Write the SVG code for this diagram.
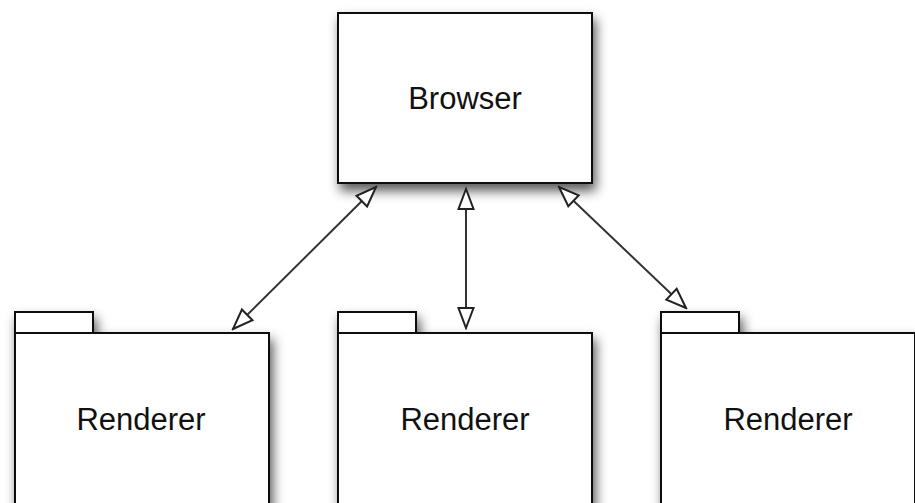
<svg xmlns="http://www.w3.org/2000/svg" width="915" height="503" viewBox="0 0 915 503">
<style>
.box{fill:#fff;stroke:#111;stroke-width:2}
.lbl{font-family:"Liberation Sans",Arial,sans-serif;font-size:31px;fill:#111;text-anchor:middle}
.conn{stroke:#333;stroke-width:2;fill:none;marker-start:url(#tri);marker-end:url(#tri)}
</style>
<defs>
<filter id="sh" x="-20%" y="-20%" width="150%" height="150%">
<feDropShadow dx="3" dy="7" stdDeviation="6" flood-color="#000" flood-opacity="0.65"/>
</filter>
<marker id="tri" markerUnits="userSpaceOnUse" viewBox="-22 -10 24 20" refX="0" refY="0" markerWidth="24" markerHeight="20" orient="auto-start-reverse">
<path d="M0,0 L-20,-7.5 L-20,7.5 Z" fill="#fff" stroke="#222" stroke-width="2" stroke-linejoin="miter"/>
</marker>
</defs>
<rect width="915" height="503" fill="#fff"/>
<g id="browser">
<rect class="box" x="338" y="13" width="254" height="170" filter="url(#sh)"/>
<text class="lbl" x="465" y="109">Browser</text>
</g>
<g id="renderer1">
<g filter="url(#sh)">
<rect class="box" x="15" y="312" width="78" height="21"/>
<rect class="box" x="15" y="333" width="254" height="200"/>
</g>
<text class="lbl" x="141" y="430">Renderer</text>
</g>
<g id="renderer2">
<g filter="url(#sh)">
<rect class="box" x="338" y="312" width="78" height="21"/>
<rect class="box" x="338" y="333" width="254" height="200"/>
</g>
<text class="lbl" x="465" y="430">Renderer</text>
</g>
<g id="renderer3">
<g filter="url(#sh)">
<rect class="box" x="661" y="312" width="78" height="21"/>
<rect class="box" x="661" y="333" width="254" height="200"/>
</g>
<text class="lbl" x="788" y="430">Renderer</text>
</g>
<g id="connectors">
<line class="conn" x1="376" y1="187" x2="233" y2="329"/>
<line class="conn" x1="466" y1="189" x2="466" y2="328"/>
<line class="conn" x1="559" y1="187" x2="686" y2="308"/>
</g>
</svg>
